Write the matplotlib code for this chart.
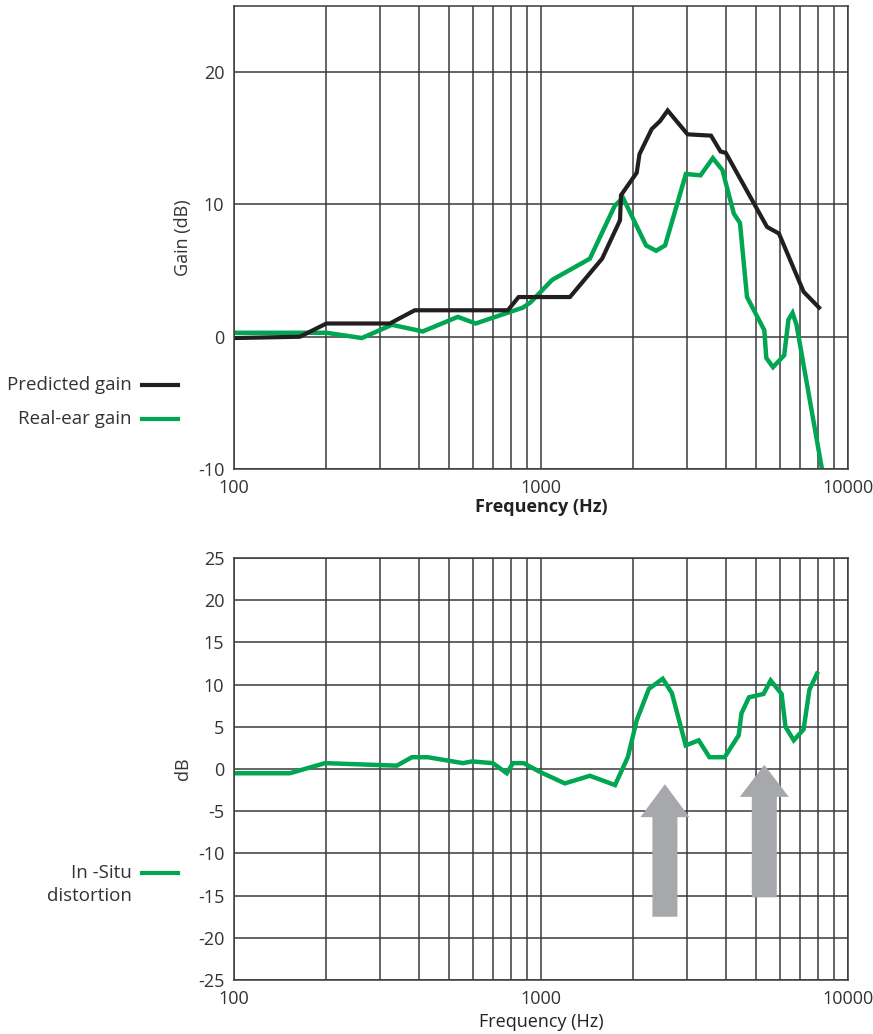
import numpy as np
import matplotlib
matplotlib.use("Agg")
import matplotlib.pyplot as plt
from matplotlib.patches import Polygon
from matplotlib.lines import Line2D

plt.rcParams['font.family'] = ['Open Sans', 'DejaVu Sans']

# Top panel: predicted vs real-ear gain
pred_freq = [100, 164, 200, 322, 388, 780, 846, 1243, 1582, 1809, 1823, 2051, 2094,
             2295, 2443, 2587, 3003, 3581, 3846, 4000, 5450, 5960, 7170, 8050]
pred_gain = [-0.1, 0.0, 1.0, 1.0, 2.0, 2.0, 3.0, 3.0, 5.9, 8.8, 10.7, 12.4, 13.8,
             15.7, 16.3, 17.1, 15.3, 15.2, 14.0, 13.9, 8.3, 7.8, 3.4, 2.2]

rear_freq = [100, 200, 261, 327, 412, 536, 613, 873, 925, 1088, 1443, 1739, 1850,
             2200, 2372, 2537, 2965, 3310, 3630, 3900, 4250, 4450, 4690, 5340,
             5420, 5700, 6200, 6400, 6600, 6800, 8200]
rear_gain = [0.3, 0.3, -0.1, 0.9, 0.4, 1.5, 1.0, 2.2, 2.6, 4.3, 5.9, 9.9, 10.5,
             6.9, 6.5, 6.9, 12.3, 12.2, 13.5, 12.6, 9.3, 8.6, 3.0, 0.5,
             -1.6, -2.3, -1.4, 1.3, 1.8, 0.9, -9.8]

# Bottom panel: in-situ distortion
dist_freq = [100, 152, 198, 339, 380, 428, 557, 596, 697, 774, 810, 878, 1000,
             1196, 1444, 1743, 1918, 2052, 2247, 2492, 2670, 2962, 3265, 3540,
             3967, 4407, 4500, 4760, 5310, 5600, 6080, 6260, 6660, 7170, 7490, 7930]
dist_db = [-0.5, -0.5, 0.7, 0.4, 1.4, 1.4, 0.7, 0.9, 0.7, -0.5, 0.7, 0.7, -0.4,
           -1.7, -0.8, -1.9, 1.4, 5.8, 9.5, 10.7, 9.0, 2.8, 3.4, 1.4,
           1.4, 4.0, 6.6, 8.5, 8.9, 10.5, 8.9, 5.0, 3.4, 4.7, 9.4, 11.3]

# arrows marking distortion peaks: centre freq, tip, head base, tail (dB)
arrow_freq = [2534, 5340]
arrow_tip = [-1.8, 0.5]
arrow_head = [-5.7, -3.3]
arrow_tail = [-17.5, -15.2]

GREEN = '#00a651'
BLACK = '#231f20'
GRID = '#3a3a3a'
ARROW = '#a7a8ab'
FS = 13

fig = plt.figure(figsize=(8.73, 10.34), dpi=100)
ax1 = fig.add_axes([0.268, 0.5464, 0.7033, 0.4478])
ax2 = fig.add_axes([0.268, 0.0522, 0.7033, 0.4081])


def style_axis(ax, yticks, ylim):
    ax.set_xscale('log')
    ax.set_xlim(100, 10000)
    ax.set_ylim(*ylim)
    ax.set_yticks(yticks)
    ax.set_xticks([100, 1000, 10000])
    ax.set_xticklabels(['100', '1000', '10000'])
    ax.xaxis.set_minor_locator(matplotlib.ticker.LogLocator(base=10, subs=range(2, 10)))
    ax.xaxis.set_minor_formatter(matplotlib.ticker.NullFormatter())
    ax.grid(True, which='both', axis='x', color=GRID, lw=1.1)
    ax.grid(True, which='major', axis='y', color=GRID, lw=1.1)
    ax.tick_params(which='both', length=0, labelsize=FS, colors='#333333', pad=7)
    for s in ax.spines.values():
        s.set_color(GRID)
        s.set_linewidth(1.1)
    ax.set_axisbelow(True)


style_axis(ax1, [-10, 0, 10, 20], (-10, 25))
ax1.set_yticklabels(['-10', '0', '10', '20'])
ax1.plot(rear_freq, rear_gain, color=GREEN, lw=3.2, solid_joinstyle='miter')
ax1.plot(pred_freq, pred_gain, color=BLACK, lw=3, solid_joinstyle='miter')
ax1.set_ylabel('Gain (dB)', fontsize=FS, color='#333333', labelpad=4)
ax1.set_xlabel('Frequency (Hz)', fontsize=FS, fontweight='bold', color='#222222', labelpad=1)

style_axis(ax2, list(range(-25, 30, 5)), (-25, 25))
ax2.set_yticklabels([str(v) if v >= 0 else '-' + str(-v) for v in range(-25, 30, 5)])
ax2.plot(dist_freq, dist_db, color=GREEN, lw=3.2, solid_joinstyle='miter')
ax2.set_ylabel('dB', fontsize=FS, color='#333333', labelpad=4)
ax2.set_xlabel('Frequency (Hz)', fontsize=FS, color='#222222', labelpad=4)

# grey arrows drawn in log-x space
head_hw = 0.0798
shaft_hw = 0.0407
for f, tip, head, tail in zip(arrow_freq, arrow_tip, arrow_head, arrow_tail):
    c = np.log10(f)
    xs = 10 ** np.array([c, c + head_hw, c + shaft_hw, c + shaft_hw,
                         c - shaft_hw, c - shaft_hw, c - head_hw])
    ys = [tip, head, head, tail, tail, head, head]
    ax2.add_patch(Polygon(np.column_stack([xs, ys]), closed=True,
                          facecolor=ARROW, edgecolor='none', zorder=3))

# side legends
def legend_entry(y_px, label, color, x_text=132):
    y = 1 - y_px / 1034
    fig.text(x_text / 873, y, label, ha='right', va='center', fontsize=13.5, color='#333333')
    fig.add_artist(Line2D([142 / 873, 178 / 873], [y, y], color=color, lw=3))

legend_entry(385, 'Predicted gain', BLACK)
legend_entry(419, 'Real-ear gain', GREEN)
legend_entry(873, 'In -Situ', GREEN)
fig.text(132 / 873, 1 - 896 / 1034, 'distortion', ha='right', va='center',
         fontsize=13.5, color='#333333')

fig.savefig('out.png', dpi=100)
